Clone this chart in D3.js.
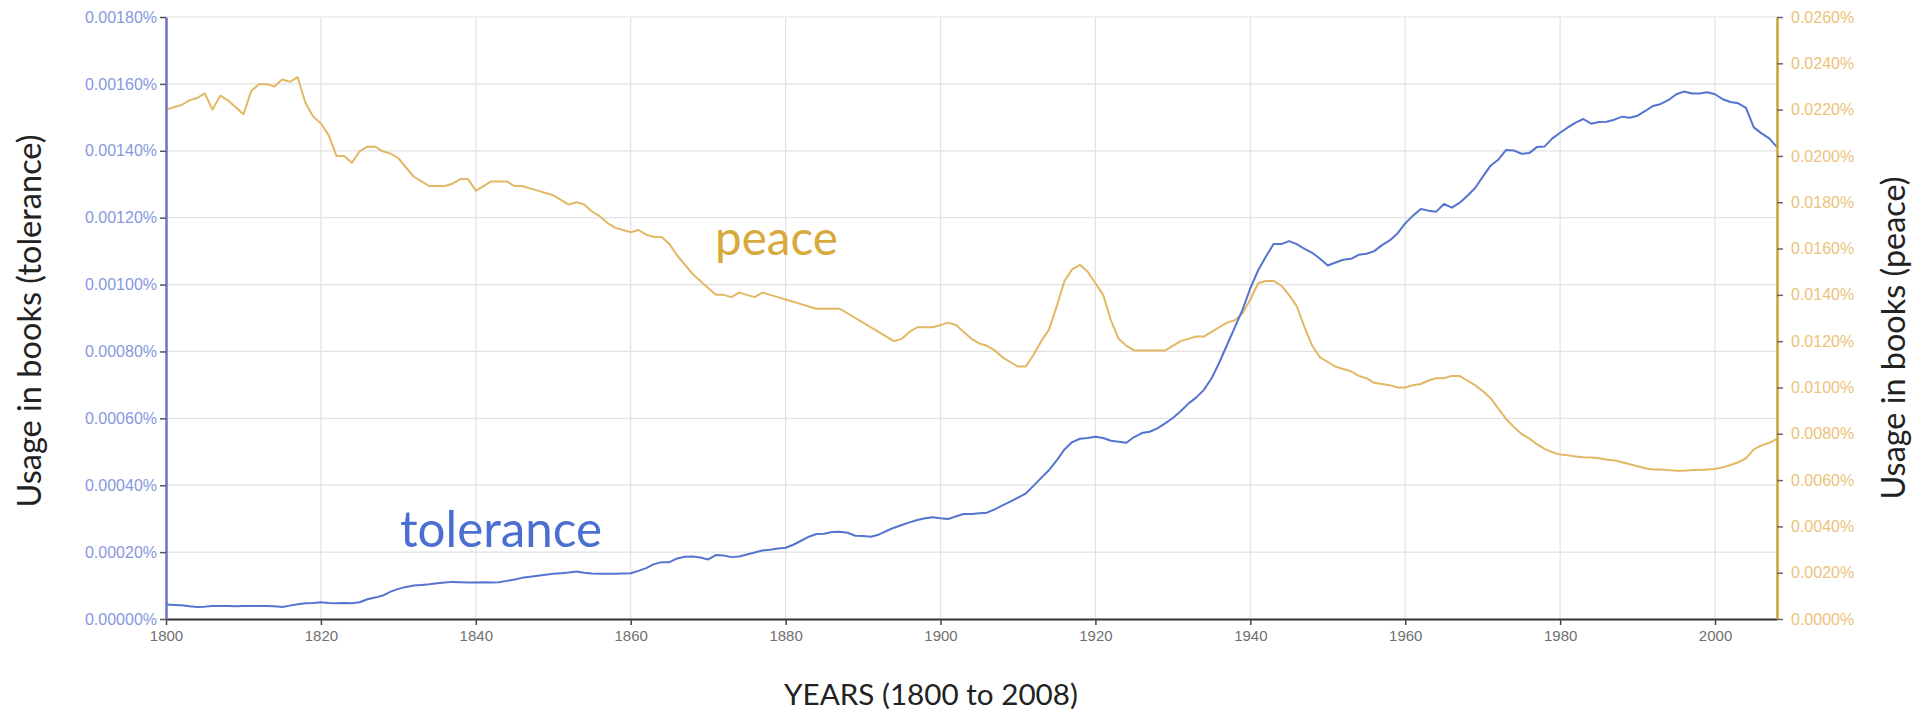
<!DOCTYPE html>
<html>
<head>
<meta charset="utf-8">
<script src="https://cdn.jsdelivr.net/npm/d3@7"></script>
<style>
  html, body { margin: 0; padding: 0; background: #fff; }
  svg { display: block; }
</style>
</head>
<body>
<svg id="chart" width="1920" height="714"></svg>
<script>
// ---------- DATA ----------
const startYear = 1800;
const endYear = 2008;
const years = d3.range(startYear, endYear + 1);

// "tolerance" usage in books, percent (left axis)
const toleranceValues = [
  0.0000430,0.0000420,0.0000410,0.0000380,0.0000360,0.0000370,0.0000390,0.0000390,0.0000390,0.0000380, // 1800-1809
  0.0000390,0.0000390,0.0000390,0.0000390,0.0000380,0.0000360,0.0000400,0.0000440,0.0000470,0.0000480, // 1810-1819
  0.0000500,0.0000480,0.0000470,0.0000480,0.0000470,0.0000500,0.0000590,0.0000640,0.0000700,0.0000820, // 1820-1829
  0.0000900,0.0000960,0.0001000,0.0001020,0.0001040,0.0001070,0.0001090,0.0001110,0.0001100,0.0001090, // 1830-1839
  0.0001090,0.0001100,0.0001090,0.0001100,0.0001140,0.0001180,0.0001230,0.0001260,0.0001290,0.0001320, // 1840-1849
  0.0001350,0.0001370,0.0001390,0.0001420,0.0001380,0.0001360,0.0001350,0.0001350,0.0001350,0.0001360, // 1850-1859
  0.0001370,0.0001440,0.0001520,0.0001640,0.0001700,0.0001700,0.0001810,0.0001860,0.0001870,0.0001840, // 1860-1869
  0.0001780,0.0001910,0.0001900,0.0001850,0.0001870,0.0001930,0.0001990,0.0002050,0.0002070,0.0002110, // 1870-1879
  0.0002130,0.0002220,0.0002340,0.0002460,0.0002540,0.0002550,0.0002600,0.0002610,0.0002580,0.0002490, // 1880-1889
  0.0002480,0.0002460,0.0002520,0.0002630,0.0002730,0.0002810,0.0002890,0.0002960,0.0003010,0.0003040, // 1890-1899
  0.0003010,0.0002990,0.0003070,0.0003140,0.0003140,0.0003160,0.0003180,0.0003280,0.0003400,0.0003510, // 1900-1909
  0.0003630,0.0003750,0.0003980,0.0004220,0.0004450,0.0004740,0.0005070,0.0005290,0.0005390,0.0005410, // 1910-1919
  0.0005450,0.0005410,0.0005330,0.0005300,0.0005270,0.0005440,0.0005560,0.0005600,0.0005700,0.0005850, // 1920-1929
  0.0006010,0.0006210,0.0006440,0.0006620,0.0006850,0.0007200,0.0007670,0.0008200,0.0008720,0.0009250, // 1930-1939
  0.0009890,0.0010420,0.0010830,0.0011210,0.0011210,0.0011300,0.0011210,0.0011070,0.0010950,0.0010770, // 1940-1949
  0.0010570,0.0010660,0.0010740,0.0010770,0.0010890,0.0010920,0.0011000,0.0011180,0.0011320,0.0011530, // 1950-1959
  0.0011830,0.0012060,0.0012260,0.0012210,0.0012180,0.0012410,0.0012300,0.0012440,0.0012650,0.0012880, // 1960-1969
  0.0013220,0.0013550,0.0013730,0.0014020,0.0014010,0.0013910,0.0013930,0.0014110,0.0014130,0.0014370, // 1970-1979
  0.0014540,0.0014700,0.0014840,0.0014950,0.0014810,0.0014860,0.0014870,0.0014930,0.0015020,0.0014990, // 1980-1989
  0.0015050,0.0015190,0.0015340,0.0015400,0.0015520,0.0015690,0.0015770,0.0015710,0.0015710,0.0015750, // 1990-1999
  0.0015690,0.0015540,0.0015460,0.0015420,0.0015280,0.0014700,0.0014520,0.0014370,0.0014110            // 2000-2008
];

// "peace" usage in books, percent (right axis)
const peaceValues = [
  0.02200,0.02210,0.02220,0.02240,0.02250,0.02270,0.02200,0.02260,0.02240,0.02210, // 1800-1809
  0.02180,0.02280,0.02310,0.02310,0.02300,0.02330,0.02320,0.02340,0.02230,0.02170, // 1810-1819
  0.02140,0.02090,0.02000,0.02000,0.01970,0.02020,0.02040,0.02040,0.02020,0.02010, // 1820-1829
  0.01990,0.01950,0.01910,0.01890,0.01870,0.01870,0.01870,0.01880,0.01900,0.01900, // 1830-1839
  0.01850,0.01870,0.01890,0.01890,0.01890,0.01870,0.01870,0.01860,0.01850,0.01840, // 1840-1849
  0.01830,0.01810,0.01790,0.01800,0.01790,0.01760,0.01740,0.01710,0.01690,0.01680, // 1850-1859
  0.01670,0.01680,0.01660,0.01650,0.01650,0.01620,0.01570,0.01530,0.01490,0.01460, // 1860-1869
  0.01430,0.01400,0.01400,0.01390,0.01410,0.01400,0.01390,0.01410,0.01400,0.01390, // 1870-1879
  0.01380,0.01370,0.01360,0.01350,0.01340,0.01340,0.01340,0.01340,0.01320,0.01300, // 1880-1889
  0.01280,0.01260,0.01240,0.01220,0.01200,0.01210,0.01240,0.01260,0.01260,0.01260, // 1890-1899
  0.01270,0.01280,0.01270,0.01240,0.01210,0.01190,0.01180,0.01160,0.01130,0.01110, // 1900-1909
  0.01090,0.01090,0.01140,0.01200,0.01250,0.01350,0.01460,0.01510,0.01530,0.01500, // 1910-1919
  0.01450,0.01400,0.01290,0.01210,0.01180,0.01160,0.01160,0.01160,0.01160,0.01160, // 1920-1929
  0.01180,0.01200,0.01210,0.01220,0.01220,0.01240,0.01260,0.01280,0.01290,0.01320, // 1930-1939
  0.01380,0.01450,0.01460,0.01460,0.01440,0.01400,0.01350,0.01260,0.01180,0.01130, // 1940-1949
  0.01110,0.01090,0.01080,0.01070,0.01050,0.01040,0.01020,0.01015,0.01010,0.01000, // 1950-1959
  0.01000,0.01010,0.01015,0.01030,0.01040,0.01040,0.01050,0.01050,0.01030,0.01010, // 1960-1969
  0.00985,0.00955,0.00910,0.00865,0.00830,0.00800,0.00780,0.00755,0.00735,0.00720, // 1970-1979
  0.00710,0.00707,0.00702,0.00699,0.00697,0.00694,0.00689,0.00685,0.00677,0.00668, // 1980-1989
  0.00660,0.00651,0.00646,0.00646,0.00643,0.00640,0.00640,0.00643,0.00643,0.00646, // 1990-1999
  0.00648,0.00655,0.00665,0.00677,0.00694,0.00733,0.00750,0.00761,0.00778          // 2000-2008
];

const xTicks = [1800, 1820, 1840, 1860, 1880, 1900, 1920, 1940, 1960, 1980, 2000];
const leftTicks = [0, 0.0002, 0.0004, 0.0006, 0.0008, 0.0010, 0.0012, 0.0014, 0.0016, 0.0018];
const rightTicks = [0, 0.002, 0.004, 0.006, 0.008, 0.010, 0.012, 0.014, 0.016, 0.018, 0.020, 0.022, 0.024, 0.026];

const seriesNames = ["tolerance", "peace"];
const leftTitle = "Usage in books (tolerance)";
const rightTitle = "Usage in books (peace)";
const xTitle = "YEARS (1800 to 2008)";

// ---------- LAYOUT ----------
const svg = d3.select("#chart");
const plot = { left: 166, right: 1777, top: 17, bottom: 619 };

const x = d3.scaleLinear().domain([startYear, endYear]).range([plot.left, plot.right]);
const yL = d3.scaleLinear().domain([0, 0.0018]).range([plot.bottom, plot.top]);
const yR = d3.scaleLinear().domain([0, 0.026]).range([plot.bottom, plot.top]);

const colors = {
  tolLine: "#5474cf",
  peaceLine: "#e2b865",
  tolText: "#4b6fd1",
  peaceText: "#d8a93c",
  leftAxis: "#6d72c4",
  rightAxis: "#c9a23a",
  leftLabel: "#8797de",
  rightLabel: "#edc27a",
  xLabel: "#707070",
  grid: "#e2e2e2"
};

const labelFont = "'Liberation Sans', Arial, sans-serif";
const titleFont = "Lato, 'Open Sans', sans-serif";

// Gridlines
const grid = svg.append("g");
grid.selectAll("line.h").data(leftTicks.filter(d => d > 0)).join("line")
  .attr("x1", plot.left).attr("x2", plot.right)
  .attr("y1", d => yL(d)).attr("y2", d => yL(d))
  .attr("stroke", colors.grid).attr("stroke-width", 1.2);
grid.selectAll("line.v").data(xTicks.filter(d => d > startYear)).join("line")
  .attr("x1", d => x(d)).attr("x2", d => x(d))
  .attr("y1", plot.top).attr("y2", plot.bottom)
  .attr("stroke", colors.grid).attr("stroke-width", 1.2);

// Lines
const data = years.map((yr, i) => ({ year: yr, tol: toleranceValues[i], peace: peaceValues[i] }));
svg.append("path").datum(data)
  .attr("fill", "none").attr("stroke", colors.peaceLine).attr("stroke-width", 2)
  .attr("stroke-linejoin", "round")
  .attr("d", d3.line().x(d => x(d.year)).y(d => yR(d.peace)));
svg.append("path").datum(data)
  .attr("fill", "none").attr("stroke", colors.tolLine).attr("stroke-width", 2)
  .attr("stroke-linejoin", "round")
  .attr("d", d3.line().x(d => x(d.year)).y(d => yL(d.tol)));

// Axes
const fmtL = v => d3.format(".5f")(v) + "%";
const fmtR = v => d3.format(".4f")(v) + "%";

const xAxis = svg.append("g").attr("transform", `translate(0,${plot.bottom})`)
  .call(d3.axisBottom(x).tickValues(xTicks).tickFormat(d3.format("d")).tickSize(6).tickSizeOuter(0).tickPadding(5));
xAxis.select(".domain").attr("stroke", "#333").attr("stroke-width", 2);
xAxis.selectAll(".tick line").attr("stroke", "#444").attr("stroke-width", 1.5);
xAxis.selectAll(".tick text").attr("fill", colors.xLabel).attr("font-size", 15).attr("font-family", labelFont);

const lAxis = svg.append("g").attr("transform", `translate(${plot.left},0)`)
  .call(d3.axisLeft(yL).tickValues(leftTicks).tickFormat(fmtL).tickSize(6).tickSizeOuter(0).tickPadding(3));
lAxis.select(".domain").attr("stroke", colors.leftAxis).attr("stroke-width", 2.5);
lAxis.selectAll(".tick line").attr("stroke", "#555").attr("stroke-width", 1.5);
lAxis.selectAll(".tick text").attr("fill", colors.leftLabel).attr("font-size", 16).attr("font-family", labelFont);

const rAxis = svg.append("g").attr("transform", `translate(${plot.right},0)`)
  .call(d3.axisRight(yR).tickValues(rightTicks).tickFormat(fmtR).tickSize(6).tickSizeOuter(0).tickPadding(8));
rAxis.select(".domain").attr("stroke", colors.rightAxis).attr("stroke-width", 2.5);
rAxis.selectAll(".tick line").attr("stroke", "#666").attr("stroke-width", 1.5);
rAxis.selectAll(".tick text").attr("fill", colors.rightLabel).attr("font-size", 16).attr("font-family", labelFont);

// fit text to a target width (layout helper)
function fit(sel, target, base) {
  sel.attr("font-size", base);
  const w = sel.node().getComputedTextLength();
  sel.attr("font-size", base * target / w);
}

// Axis titles
const lt = svg.append("text").text(leftTitle)
  .attr("transform", "translate(41,321) rotate(-90)")
  .attr("text-anchor", "middle").attr("fill", "#222").attr("font-family", titleFont);
fit(lt, 373, 28);

const rt = svg.append("text").text(rightTitle)
  .attr("transform", "translate(1905,338) rotate(-90)")
  .attr("text-anchor", "middle").attr("fill", "#222").attr("font-family", titleFont);
fit(rt, 323, 28);

const xt = svg.append("text").text(xTitle)
  .attr("x", 931).attr("y", 705)
  .attr("text-anchor", "middle").attr("fill", "#222").attr("font-family", titleFont);
fit(xt, 294, 28);

// Series labels
const tl = svg.append("text").text(seriesNames[0])
  .attr("x", 400).attr("y", 547).attr("fill", colors.tolText).attr("font-family", titleFont);
fit(tl, 202, 40);
const pl = svg.append("text").text(seriesNames[1])
  .attr("x", 715).attr("y", 255).attr("fill", colors.peaceText).attr("font-family", titleFont);
fit(pl, 123, 40);
</script>
</body>
</html>
